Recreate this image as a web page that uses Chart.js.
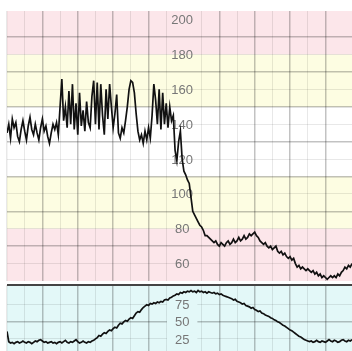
<!DOCTYPE html>
<html>
<head>
<meta charset="utf-8">
<script src="https://cdn.jsdelivr.net/npm/chart.js@4.4.1/dist/chart.umd.min.js"></script>
<style>
  html, body { margin: 0; padding: 0; background: #fff; overflow: hidden; }
  #wrap { position: relative; width: 352px; height: 351px; overflow: hidden; }
  #fhr { position: absolute; left: 0; top: 0; }
  #toco { position: absolute; left: 0; top: 284px; }
</style>
</head>
<body>
<div id="wrap">
  <canvas id="fhr" width="352" height="283"></canvas>
  <canvas id="toco" width="352" height="74"></canvas>
</div>
<script>
// fetal heart rate, one sample per time step
const fhrValues = [
  135, 140, 132, 143, 138, 141, 133, 130, 137, 142,
  136, 131, 139, 144, 137, 134, 140, 135, 131, 138,
  143, 136, 139, 133, 129, 135, 140, 137, 141, 134,
  150, 166, 142, 150, 138, 159, 140, 163, 137, 152,
  134, 158, 139, 148, 136, 153, 141, 138, 156, 165,
  140, 164, 137, 163, 145, 134, 160, 143, 163, 150,
  138, 146, 157, 135, 132, 138, 135, 142, 150, 160,
  165, 164, 158, 146, 136, 131, 134, 129, 136, 131,
  138, 132, 145, 163, 154, 140, 160, 137, 158, 140,
  152, 138, 150, 142, 145, 125, 119, 130, 136, 120,
  113, 111, 108, 106, 98, 90, 88, 86, 84, 82,
  81, 79, 76, 76, 75, 74, 73, 72, 73, 71,
  70, 72, 71, 70, 72, 73, 71, 72, 74, 72,
  73, 75, 73, 74, 76, 74, 75, 77, 76, 77,
  78, 76, 75, 73, 72, 71, 72, 70, 69, 70,
  68, 69, 70, 67, 66, 67, 65, 66, 64, 63,
  64, 62, 63, 60, 58, 59, 57, 58, 57, 56,
  57, 56, 55, 56, 54, 55, 53, 54, 52, 53,
  52, 51, 52, 53, 52, 53, 52, 54, 53, 55,
  56, 58, 57, 59, 58, 60
];

// uterine activity, same time steps
const tocoValues = [
  36, 21, 19, 20, 18, 20, 21, 19, 20, 22,
  20, 19, 21, 20, 18, 20, 22, 21, 23, 24,
  22, 20, 21, 19, 20, 21, 19, 20, 18, 20,
  21, 19, 21, 23, 20, 19, 21, 20, 22, 24,
  21, 19, 20, 22, 20, 19, 21, 20, 22, 23,
  25, 27, 30, 29, 32, 34, 33, 36, 38, 37,
  40, 42, 41, 45, 48, 47, 50, 52, 51, 54,
  56, 55, 59, 63, 65, 64, 68, 71, 73, 75,
  74, 77, 76, 78, 77, 79, 78, 80, 79, 82,
  83, 82, 85, 86, 88, 89, 91, 90, 93, 92,
  94, 93, 95, 94, 96, 94, 95, 93, 96, 94,
  95, 93, 94, 92, 94, 93, 92, 93, 91, 92,
  90, 91, 89, 88, 87, 86, 85, 84, 82, 83,
  80, 79, 78, 76, 77, 74, 73, 72, 70, 71,
  68, 67, 65, 66, 63, 62, 60, 59, 58, 56,
  55, 53, 52, 50, 49, 47, 45, 44, 42, 40,
  38, 37, 35, 33, 31, 29, 28, 26, 24, 23,
  22, 21, 22, 20, 21, 23, 21, 20, 22, 21,
  20, 22, 24, 22, 21, 23, 22, 20, 21, 23,
  24, 22, 21, 23, 22, 24
];

const fhrTickLabels = [200, 180, 160, 140, 120, 100, 80, 60];
const tocoTickLabels = [75, 50, 25];

const fhrBands = [
  { from: 180, to: 205, color: '#fce6ea' },
  { from: 150, to: 180, color: '#fdfde2' },
  { from: 80, to: 110, color: '#fdfde2' },
  { from: 50, to: 80, color: '#fce6ea' },
];
const tocoBands = [
  { from: 0, to: 104, color: '#e3f8f8' },
];

const LABEL_COLUMN = 99;   // time step where the printed scale sits
const MAJOR = 'rgba(0,0,0,0.24)';
const MINOR = 'rgba(0,0,0,0.09)';

const bandsPlugin = {
  id: 'bands',
  beforeDraw(chart, args, opts) {
    const { ctx, chartArea: a, scales: { y } } = chart;
    ctx.save();
    for (const b of opts.list) {
      const top = y.getPixelForValue(b.to);
      const bottom = y.getPixelForValue(b.from);
      ctx.fillStyle = b.color;
      ctx.fillRect(a.left, top, a.right - a.left, bottom - top);
    }
    ctx.restore();
  }
};

const tickLabelPlugin = {
  id: 'tickLabels',
  beforeDatasetsDraw(chart, args, opts) {
    const { ctx, scales: { x, y } } = chart;
    const cx = x.getPixelForValue(LABEL_COLUMN);
    ctx.save();
    ctx.font = '13px "Liberation Sans", Arial, sans-serif';
    ctx.textAlign = 'center';
    ctx.textBaseline = 'middle';
    for (const v of opts.values) {
      const py = y.getPixelForValue(v);
      const label = String(v);
      if (opts.background) {
        const w = ctx.measureText(label).width + 16;
        ctx.fillStyle = opts.background;
        ctx.fillRect(cx - w / 2, py - 6, w, 12);
      }
      ctx.fillStyle = '#777';
      ctx.fillText(label, cx, py + 1);
    }
    ctx.restore();
  }
};

function xGridColor(c) {
  const v = c.tick.value;
  if (v === LABEL_COLUMN + 1 || v % 10 !== 0) return 'rgba(0,0,0,0)';
  return v % 20 === 0 && v !== 0 ? MAJOR : MINOR;
}

function xAxis() {
  return {
    type: 'linear', min: 0, max: 195,
    ticks: { display: false, stepSize: 10 },
    border: { display: false },
    grid: {
      drawTicks: false,
      color: xGridColor,
      lineWidth: (c) => (c.tick.value % 20 === 0 ? 1.5 : 1),
    },
  };
}

function points(values) {
  return values.map((v, i) => ({ x: i, y: v }));
}

new Chart(document.getElementById('fhr'), {
  type: 'line',
  data: {
    datasets: [{
      data: points(fhrValues),
      borderColor: '#111',
      borderWidth: 1.7,
      pointRadius: 0,
      tension: 0,
    }],
  },
  options: {
    responsive: false,
    animation: false,
    layout: { padding: { left: 7, top: 11, right: 0, bottom: 2 } },
    scales: {
      x: xAxis(),
      y: {
        min: 50, max: 205,
        ticks: { display: false, stepSize: 10 },
        border: { display: false },
        grid: {
          drawTicks: false,
          color: (c) => {
            const v = c.tick.value;
            if (v % 10 !== 0 || v === 50) return 'rgba(0,0,0,0)';
            return (v / 10) % 2 === 1 ? MAJOR : MINOR;
          },
          lineWidth: (c) => ((c.tick.value / 10) % 2 === 1 ? 1.5 : 1),
        },
      },
    },
    plugins: {
      legend: { display: false },
      tooltip: { enabled: false },
      bands: { list: fhrBands },
      tickLabels: { values: fhrTickLabels },
    },
  },
  plugins: [bandsPlugin, tickLabelPlugin],
});

new Chart(document.getElementById('toco'), {
  type: 'line',
  data: {
    datasets: [{
      data: points(tocoValues),
      borderColor: '#111',
      borderWidth: 1.7,
      pointRadius: 0,
      tension: 0,
    }],
  },
  options: {
    responsive: false,
    animation: false,
    layout: { padding: { left: 7, top: 1, right: 0, bottom: 2 } },
    scales: {
      x: xAxis(),
      y: {
        min: 0, max: 104,
        ticks: { display: false, stepSize: 25 },
        border: { display: false },
        grid: {
          drawTicks: false,
          color: (c) => {
            const v = c.tick.value;
            if (v === 104) return '#444';
            if (v === 0) return 'rgba(0,0,0,0)';
            return v === 50 ? MAJOR : MINOR;
          },
          lineWidth: (c) => (c.tick.value === 104 ? 2 : c.tick.value === 50 ? 1.5 : 1),
        },
      },
    },
    plugins: {
      legend: { display: false },
      tooltip: { enabled: false },
      bands: { list: tocoBands },
      tickLabels: { values: tocoTickLabels, background: '#e3f8f8' },
    },
  },
  plugins: [bandsPlugin, tickLabelPlugin],
});
</script>
</body>
</html>
